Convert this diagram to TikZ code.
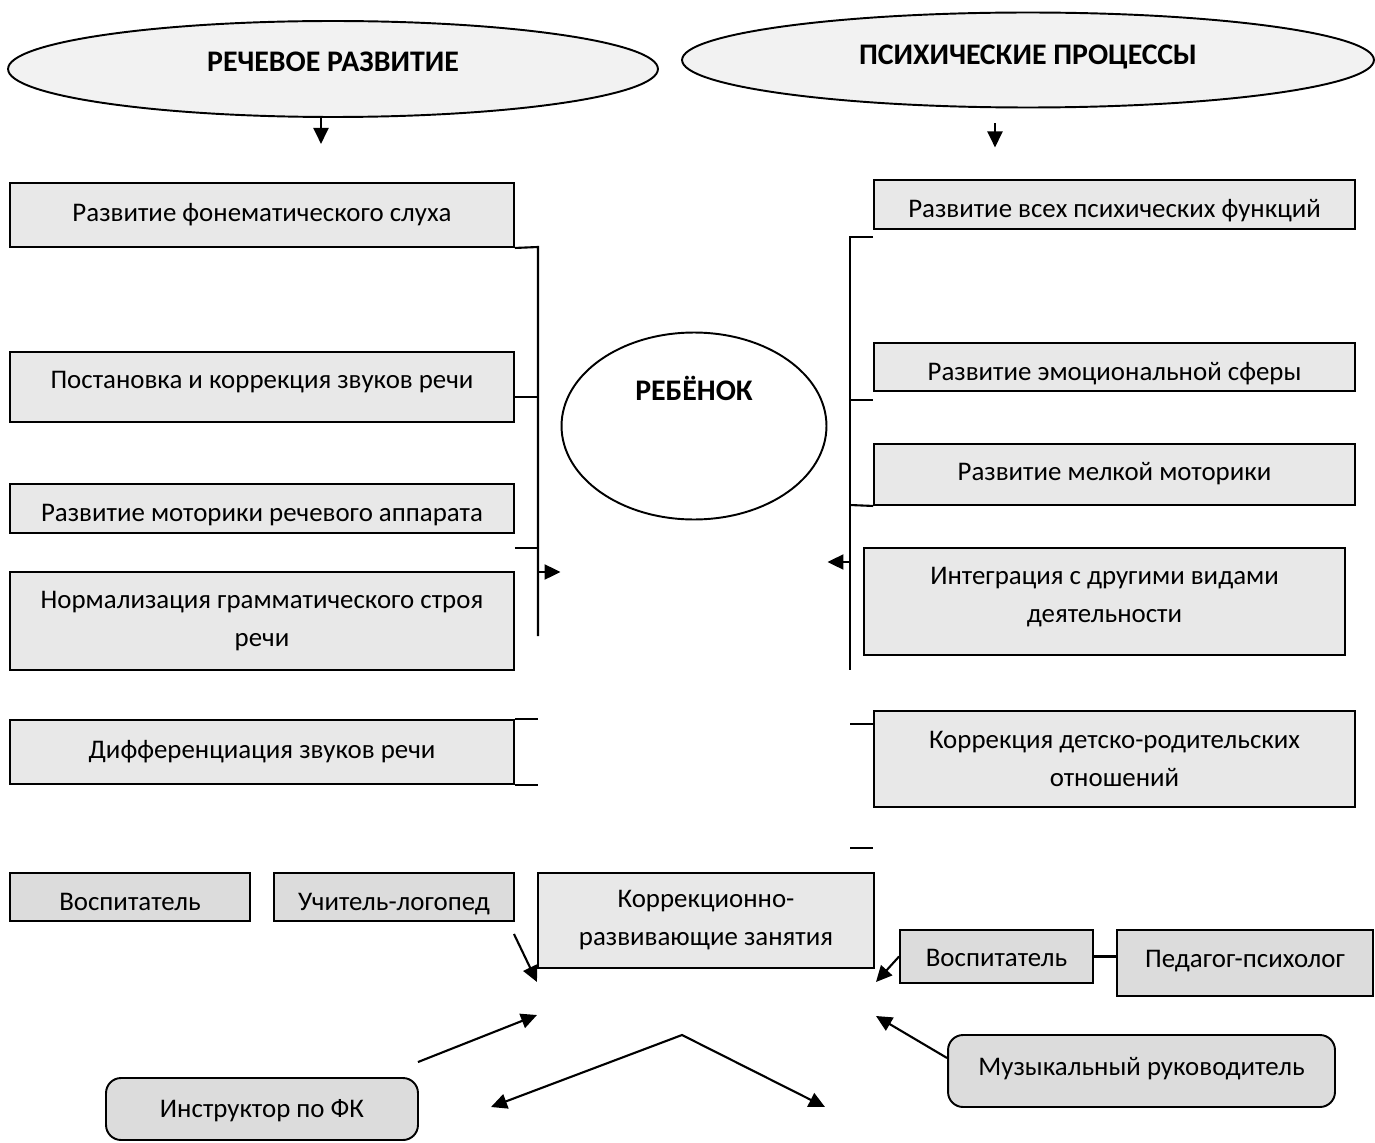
\documentclass[tikz,border=0pt]{standalone}
\usepackage{fontspec}
\setmainfont{Carlito}
\usetikzlibrary{arrows.meta,shapes.geometric,positioning}
\definecolor{boxgray}{HTML}{E8E8E8}
\definecolor{staffgray}{HTML}{DCDCDC}
\definecolor{ovalgray}{HTML}{F2F2F2}
\tikzset{
  lbl/.style={font=\fontsize{15.3}{21.6}\selectfont, align=center},
  task/.style={lbl, draw, line width=1.1pt, fill=boxgray, inner sep=0pt},
  ty/.style={text height=#1, text depth=3.8pt},  % baseline of one-line texts
  staff/.style={task, fill=staffgray},
  oval/.style={ellipse, draw, line width=1.1pt, fill=ovalgray, inner sep=0pt,
    font=\fontsize{17}{20}\selectfont\bfseries},
  arr/.style={-{Triangle[length=0.32cm,width=0.3cm]}},
  arrs/.style={{Triangle[length=0.32cm,width=0.3cm]}-{Triangle[length=0.32cm,width=0.3cm]}},
}

\begin{document}
\begin{tikzpicture}[x=0.02cm, y=-0.02cm, line width=1.2pt]
\useasboundingbox (0,0) rectangle (1375,1142);
% ovals
\node[oval, ty=6.9pt, minimum width=13cm, minimum height=1.92cm] (speech) at (333,69) {РЕЧЕВОЕ РАЗВИТИЕ};
\node[oval, ty=9.2pt, minimum width=13.84cm, minimum height=1.9cm] (proc) at (1028,60) {ПСИХИЧЕСКИЕ ПРОЦЕССЫ};
\node[ellipse, draw, line width=1.1pt, minimum width=5.3cm, minimum height=3.74cm] (kid) at (694,426) {};
\node[font=\fontsize{17}{20}\selectfont\bfseries] (kidlbl) at (694,388) {РЕБЁНОК};
\draw[arr] ([xshift=-0.24cm]speech.south) -- ++(0,26);
\draw[arr] ([shift={(-33,15)}]proc.south) -- ++(0,24);

% left column
\def\lw{10.08cm}
\node[task, ty=10.7pt, minimum width=\lw, minimum height=1.28cm] (fon) at (262,215) {Развитие фонематического слуха};
\node[task, ty=5.1pt, minimum width=\lw, minimum height=1.4cm] (zvuk) at (262,387) {Постановка и коррекция звуков речи};
\node[task, ty=18.4pt, minimum width=\lw, minimum height=0.98cm] (motor) at (262,508.5) {Развитие моторики речевого аппарата};
\node[task, minimum width=\lw, minimum height=1.96cm] (gram) at (262,621) {Нормализация грамматического строя\\речи};
\node[task, ty=10.7pt, minimum width=\lw, minimum height=1.28cm] (diff) at (262,752) {Дифференциация звуков речи};

% right column
\def\rw{9.62cm}
\node[task, ty=18.7pt, minimum width=\rw, minimum height=0.98cm] (func) at (1114.5,204.5) {Развитие всех психических функций};
\node[task, ty=18.7pt, minimum width=\rw, minimum height=0.96cm] (emo) at (1114.5,367) {Развитие эмоциональной сферы};
\node[task, ty=10.7pt, minimum width=\rw, minimum height=1.22cm] (melk) at (1114.5,474.5) {Развитие мелкой моторики};
\node[task, text depth=7.2pt, minimum width=\rw, minimum height=2.14cm] (integ) at (1104.5,601.5) {Интеграция с другими видами\\деятельности};
\node[task, minimum width=\rw, minimum height=1.92cm] (rodit) at (1114.5,759) {Коррекция детско-родительских\\отношений};

% bus lines
\foreach \n/\y in {lt/247, l2/397, l3/548, la/572, lb/636} { \coordinate (\n) at (538,\y); }
\foreach \n/\y in {rt/237, r2/400, r3/505, ra/562, rb/670, r5/724, rd/848} { \coordinate (\n) at (850,\y); }
\draw (fon.south east) -- (lt) -- (lb);
\draw (zvuk.east |- l2) -- (l2);
\draw (motor.east |- l3) -- (l3);
\draw[arr] (la) -- (la -| kid.west);
\foreach \a in {north east, south east} { \draw (diff.\a) -- (diff.\a -| lt); }
\draw (rt -| func.west) -- (rt) -- (rb);
\draw (r2) -- (r2 -| emo.west);
\draw (r3) -- (melk.south west);
\draw[arr] (ra) -- (ra -| kid.east);
\foreach \n in {r5, rd} { \draw (\n) -- (\n -| rodit.west); }

% staff
\node[staff, ty=18.7pt, minimum width=4.8cm, minimum height=0.96cm] (vosp) at (130,897) {Воспитатель};
\node[staff, ty=18.7pt, minimum width=4.8cm, minimum height=0.96cm] (logo) at (394,897) {Учитель-логопед};
\node[task, minimum width=6.72cm, minimum height=1.9cm] (corr) at (706,920.5) {Коррекционно-\\развивающие занятия};
\node[staff, ty=14.7pt, minimum width=3.86cm, minimum height=1.06cm] (vospr) at (996.5,956.5) {Воспитатель};
\node[staff, ty=8.5pt, minimum width=5.12cm, minimum height=1.32cm] (psych) at (1245,963) {Педагог-психолог};
\node[staff, ty=13pt, rounded corners=0.3cm, minimum width=6.24cm, minimum height=1.24cm] (fk) at (262,1109) {Инструктор по ФК};
\node[staff, ty=8.5pt, rounded corners=0.3cm, minimum width=7.74cm, minimum height=1.44cm] (music) at (1141.5,1071) {Музыкальный руководитель};
\draw (vospr.east) -- (vospr.east -| psych.west);

% arrows round the lessons box
\coordinate (cl) at (537,982);  \coordinate (cl2) at (537,1015);
\coordinate (cr) at (876,982);  \coordinate (cr2) at (876,1016);
\coordinate (apex) at (682,1035);
\coordinate (vl) at (491,1107); \coordinate (vr) at (825,1107);
\draw[arr] ([shift={(-1,12)}]logo.south east) -- (cl);
\draw[arr] (vospr.west) -- (cr);
\draw[arr] ([shift={(-1,-15)}]fk.north east) -- (cl2);
\draw[arr] ([shift={(0,-13)}]music.west) -- (cr2);
\draw[arrs] (vl) -- (apex) -- (vr);
\end{tikzpicture}
\end{document}
